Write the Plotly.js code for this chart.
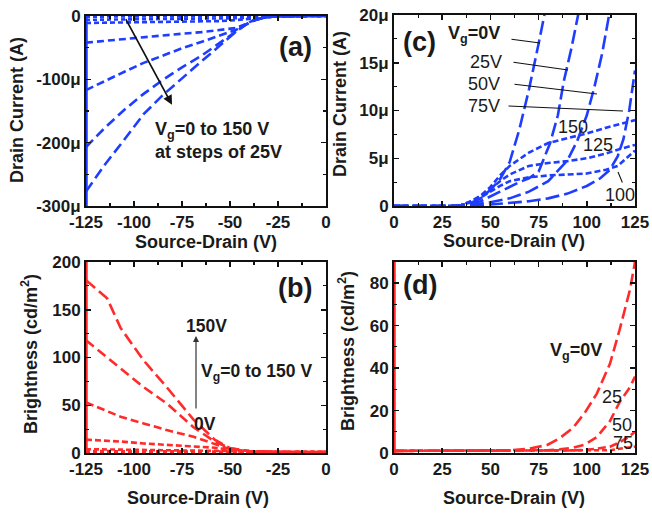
<!DOCTYPE html>
<html><head><meta charset="utf-8">
<script src="https://cdn.plot.ly/plotly-3.0.1.min.js"></script>
<style>body{margin:0;background:#fff}#g{width:652px;height:513px}</style>
</head><body><div id="g"></div>
<script>
// ---------- DATA ----------
// (a) drain current (µA) vs source-drain (V), negative bias, Vg = 0..150
const aX = [-125,-115,-105,-95,-85,-75,-65,-55,-47,-42,-38,-33,-28,-20,-10,0];
const aI0   = [-1,-1,-1,-1,-1,-1,-1,-1,-1,-0.8,-0.5,-0.3,-0.2,0,0,0];
const aI25  = [-6,-5.8,-5.6,-5.4,-5.2,-5,-4.8,-4.4,-3.6,-2.8,-1.8,-1,-0.5,0,0,0];
const aI50  = [-11,-10.7,-10.4,-10,-9.6,-9.2,-8.7,-8,-6.5,-5,-3.2,-1.6,-0.7,0,0,0];
const aI75  = [-42,-39,-36,-34,-31,-28,-25.5,-22,-19,-13,-7,-3,-1,-0.2,0,0];
const aI100 = [-117,-102,-88,-74,-62,-51,-41,-31,-22,-14,-7.5,-3,-1,-0.2,0,0];
const aI125 = [-207,-176,-148,-123,-101,-81,-63,-42,-24,-14,-7.5,-3,-1,-0.2,0,0];
const aI150 = [-277,-234,-195,-155,-125,-98,-72,-46,-25,-14,-7.5,-3,-1,-0.2,0,0];

// (c) drain current (µA) vs source-drain (V), positive bias
const c0X  = [0,30,35,40,45,50,55,60,65,70,75,78.5];
const c0I  = [0,0,0.1,0.35,0.8,1.7,2.8,4.6,8,12.2,17,20.5];
const c25X = [0,30,35,45,55,60,65,70,75,81,85,88,92,96];
const c25I = [0,0,0.1,0.5,1.5,2,2.5,2.9,3.6,6.6,9.5,13,16.5,20.5];
const c50X = [0,35,40,50,60,70,80,90,95,100,104,108,112];
const c50I = [0,0,0.1,0.4,0.8,1.5,2.6,4.8,6.8,9.5,12.5,16,20.5];
const c75X = [0,40,50,60,70,80,90,100,107,112,116,119,122,125];
const c75I = [0,0,0.15,0.3,0.5,0.8,1.3,2.1,2.9,3.8,5.2,7,10,14.2];
const cHX  = [0,30,35,40,45,50,55,60,70,80,90,100,110,116,125];
const c100I = [0,0,0.1,0.4,0.9,1.5,2.1,2.6,3.0,3.2,3.3,3.4,3.8,4.2,5.8];
const c125I = [0,0,0.1,0.5,1.0,1.8,2.6,3.3,4.2,4.5,4.7,5.0,5.5,5.9,6.4];
const c150I = [0,0,0.1,0.5,1.1,2.0,3.2,4.2,5.6,6.6,7.1,7.6,8.2,8.5,9.0];

// (b) brightness (cd/m2) vs source-drain (V), negative bias
const bX = [-125,-114,-107,-95,-83,-69,-58,-50,-40,-25,-10,0];
const b0   = [1,1,1,1,1,1,1,1,1,1,1,1];
const b25  = [2,2,2,2,2,2,1.8,1.5,1,1,1,1];
const b50  = [4,3.8,3.6,3.4,3.2,3,2.6,2,1.2,1,1,1];
const b75  = [14,13,12,10,8.5,7,5.5,3.5,2,1,1,1];
const b100 = [53,44,38,31,24,17,9,4,1.5,1,1,1];
const b125 = [118,100,89,69,52,27,12,5,2,1,1,1];
const b150 = [181,162,131,97,69,35,14,5,2,1,1,1];

// (d) brightness (cd/m2) vs source-drain (V), positive bias
const dX = [0,25,50,60,70,79.5,86,93,99,105.2,112,117,122.4,125];
const d0  = [1,1,1,1.3,2,3.8,7,12,19,28,42,58,77,90];
const d25 = [1,1,1,1,1,1.3,1.7,2.5,4,7.5,15,24,31,36];
const d50 = [1,1,1,1,1,1,1,1.2,1.5,2,3,5,8,10];
const d75 = [1,1,1,1,1,1,1,1,1,1,1.3,2,2.6,3];

// ---------- STYLE ----------
const BLUE = '#1f3dff', RED = '#ff2b2b';
const W = 652, H = 513;
const px = x => x / W, py = y => 1 - y / H;
const FONT = {family: 'Liberation Sans, Arial, sans-serif', size: 17, color: '#1a1a1a', weight: 'bold'};
const f = (o) => Object.assign({}, FONT, o);

function tr(x, y, xa, ya, color, dash, width) {
  return {x: x, y: y, xaxis: xa, yaxis: ya, type: 'scatter', mode: 'lines',
    line: {color: color, dash: dash, width: width || 2.6}, hoverinfo: 'skip', showlegend: false};
}
const data = [];
// (a)
const aDash = ['4px,3px','4px,3px','5px,3px','7px,4px','8px,4px','10px,5px','11px,5px'];
[aI0,aI25,aI50,aI75,aI100,aI125,aI150].forEach((s,i)=>data.push(tr(aX,s,'x','y',BLUE,aDash[i])));
data.push(tr([-125,-125],[0,-300],'x','y',BLUE,'solid',3.5));
// (c)
data.push(tr(cHX,c100I,'x2','y2',BLUE,'6px,3px'));
data.push(tr(cHX,c125I,'x2','y2',BLUE,'6px,3px'));
data.push(tr(cHX,c150I,'x2','y2',BLUE,'6px,3px'));
data.push(tr(c75X,c75I,'x2','y2',BLUE,'14px,5px'));
data.push(tr(c50X,c50I,'x2','y2',BLUE,'14px,5px'));
data.push(tr(c25X,c25I,'x2','y2',BLUE,'14px,5px'));
data.push(tr(c0X,c0I,'x2','y2',BLUE,'14px,5px'));
// (b)
const bDash = ['4px,3px','4px,3px','5px,3px','6px,3px','8px,4px','10px,5px','12px,5px'];
[b0,b25,b50,b75,b100,b125,b150].forEach((s,i)=>data.push(tr(bX,s,'x3','y3',RED,bDash[i])));
data.push(tr([-125,-125],[0,200],'x3','y3',RED,'solid',3.5));
// (d)
data.push(tr(dX,d75,'x4','y4',RED,'5px,3px'));
data.push(tr(dX,d50,'x4','y4',RED,'8px,4px'));
data.push(tr(dX,d25,'x4','y4',RED,'10px,5px'));
data.push(tr(dX,d0,'x4','y4',RED,'12px,5px'));
data.push(tr([0,0],[0,90],'x4','y4',RED,'solid',3.5));

function ax(dom, range, tickvals, ticktext, minor, anchor) {
  return {domain: dom, range: range, anchor: anchor, showline: true, linewidth: 2, linecolor: '#111',
    mirror: 'allticks', ticks: 'inside', ticklen: 5, tickwidth: 1.5, tickcolor: '#111',
    tickvals: tickvals, ticktext: ticktext, showgrid: false, zeroline: false, tickfont: FONT,
    minor: {tickvals: minor, ticks: 'inside', ticklen: 3, tickwidth: 1.2, tickcolor: '#111', showgrid: false},
    fixedrange: true};
}
const xNeg = [-125,-100,-75,-50,-25,0], xNegT = ['-125','-100','-75','-50','-25','0'];
const xNegM = [-112.5,-87.5,-62.5,-37.5,-12.5];
const xPos = [0,25,50,75,100,125], xPosT = ['0','25','50','75','100','125'];
const xPosM = [12.5,37.5,62.5,87.5,112.5];
const dA = [px(86), px(326)], dC = [px(394), px(635)];
const dTop = [py(206), py(16)], dTopC = [py(206), py(15)], dBot = [py(453), py(262)];

const layout = {
  width: W, height: H, margin: {l:0,r:0,t:0,b:0}, paper_bgcolor: '#fff', plot_bgcolor: '#fff',
  showlegend: false,
  xaxis: ax(dA, [-125,0], xNeg, xNegT, xNegM, 'y'),
  yaxis: ax(dTop, [-300,0], [0,-100,-200,-300], ['0','-100μ','-200μ','-300μ'], [-50,-150,-250], 'x'),
  xaxis2: ax(dC, [0,125], xPos, xPosT, xPosM, 'y2'),
  yaxis2: ax(dTopC, [0,20], [0,5,10,15,20], ['0','5μ','10μ','15μ','20μ'], [2.5,7.5,12.5,17.5], 'x2'),
  xaxis3: ax(dA, [-125,0], xNeg, xNegT, xNegM, 'y3'),
  yaxis3: ax(dBot, [0,200], [0,50,100,150,200], ['0','50','100','150','200'], [25,75,125,175], 'x3'),
  xaxis4: ax(dC, [0,125], xPos, xPosT, xPosM, 'y4'),
  yaxis4: ax(dBot, [0,90], [0,20,40,60,80], ['0','20','40','60','80'], [10,30,50,70,90], 'x4'),
  annotations: []
};
const A = layout.annotations;
function pt(text, x, y, opt) {
  A.push(Object.assign({text: text, x: px(x), y: py(y), xref: 'paper', yref: 'paper', showarrow: false,
    font: f({}), xanchor: 'center', yanchor: 'middle'}, opt || {}));
}
// axis titles
const tf = f({size: 18});
pt('Drain Current (A)', 17, 110, {textangle: -90, font: tf});
pt('Drain Current (A)', 340, 104, {textangle: -90, font: tf});
pt('Brightness (cd/m<sup>2</sup>)', 29, 354, {textangle: -90, font: tf});
pt('Brightness (cd/m<sup>2</sup>)', 346, 351, {textangle: -90, font: tf});
pt('Source-Drain (V)', 206, 242, {font: tf});
pt('Source-Drain (V)', 514, 241, {font: tf});
pt('Source-Drain (V)', 198, 498, {font: tf});
pt('Source-Drain (V)', 514, 498, {font: tf});
// panel letters
const big = f({size: 27});
pt('(a)', 295, 47, {font: big});
pt('(c)', 420, 42, {font: big});
pt('(b)', 295, 288, {font: big});
pt('(d)', 420, 285, {font: big});

// (a) annotations
A.push({x: -80.2, y: -140, xref: 'x', yref: 'y', ax: -104.7, ay: -2.5, axref: 'x', ayref: 'y',
  showarrow: true, arrowhead: 2, arrowsize: 1.1, arrowwidth: 1.7, arrowcolor: '#111', text: ''});
pt('V<sub>g</sub>=0 to 150 V', 153, 130, {xanchor: 'left', font: f({size: 18})});
pt('at steps of 25V', 153, 152, {xanchor: 'left', font: f({size: 18})});

// (c) labels with leader lines
const thin = f({weight: 'normal', size: 18});
pt('V<sub>g</sub>=0V', 474, 34, {font: f({size: 18})});
pt('25V', 486, 62, {font: thin});
pt('50V', 484, 84, {font: thin});
pt('75V', 484, 106, {font: thin});
pt('150', 573, 127, {font: thin});
pt('125', 598, 145, {font: thin});
pt('100', 620, 195, {font: thin});
function leader(x0, y0, x1, y1) {
  A.push({x: px(x1), y: py(y1), xref: 'paper', yref: 'paper', ax: px(x0), ay: py(y0), axref: 'paper', ayref: 'paper',
    showarrow: true, arrowhead: 0, arrowwidth: 1.1, arrowcolor: '#111', text: ''});
}
leader(510, 39, 540, 43);
leader(512, 62, 568, 70);
leader(513, 84, 597, 94);
leader(507, 106, 623, 111);
leader(623, 184, 618, 172);

// (b) labels
A.push({x: px(196), y: py(336), xref: 'paper', yref: 'paper', ax: px(196), ay: py(410), axref: 'paper', ayref: 'paper',
  showarrow: true, arrowhead: 2, arrowsize: 1, arrowwidth: 1.2, arrowcolor: '#333', text: ''});
pt('150V', 206, 326, {font: f({size: 17.5})});
pt('V<sub>g</sub>=0 to 150 V', 199, 372, {xanchor: 'left', font: f({size: 17.5})});
pt('0V', 205, 424, {font: f({size: 17.5})});

// (d) labels
pt('V<sub>g</sub>=0V', 576, 351, {font: f({size: 18})});
pt('25', 612, 397, {font: thin});
pt('50', 622, 425, {font: thin});
pt('75', 623, 443, {font: thin});

Plotly.newPlot('g', data, layout, {staticPlot: true, displayModeBar: false});
</script></body></html>
